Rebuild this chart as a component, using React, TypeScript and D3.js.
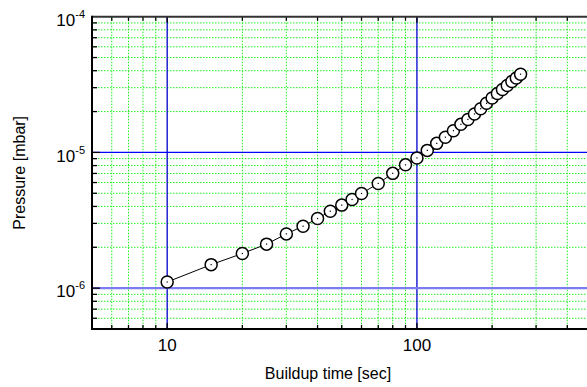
import React from "react";
import * as d3 from "d3";

// buildup time [sec]
const times = [10, 15, 20, 25, 30, 35, 40, 45, 50, 55, 60, 70, 80, 90, 100, 110, 120, 130, 140, 150, 160, 170, 180, 190, 200, 210, 220, 230, 240, 250, 260];
// pressure [mbar]
const pressures = [
  1.11e-6, 1.49e-6, 1.8e-6, 2.11e-6, 2.51e-6, 2.86e-6, 3.26e-6, 3.69e-6, 4.09e-6, 4.5e-6, 4.98e-6,
  5.91e-6, 7.01e-6, 8.1e-6, 9.1e-6, 1.035e-5, 1.166e-5, 1.295e-5, 1.446e-5, 1.61e-5, 1.75e-5,
  1.92e-5, 2.1e-5, 2.3e-5, 2.52e-5, 2.72e-5, 2.91e-5, 3.11e-5, 3.33e-5, 3.53e-5, 3.77e-5,
];
const xMajor = [10, 100];
const xTickLabels = ["10", "100"];
const yMajor = [1e-6, 1e-5, 1e-4];
const yTickExps = ["-6", "-5", "-4"];

const W = 587;
const H = 387;
const left = 92, top = 16.7, bottom = 329, right = 591.5;
const font = "Arial, 'Liberation Sans', sans-serif";

export default function App() {
  const x = d3.scaleLog().domain([5, 500]).range([left, right]);
  const y = d3.scaleLog().domain([5e-7, 1e-4]).range([bottom, top]);

  const isMajor = (v: number) => Math.abs(Math.log10(v) - Math.round(Math.log10(v))) < 1e-9;
  const xMinor = x.ticks().filter((v) => !isMajor(v) && v > 5 && v < 500);
  const yMinor = y.ticks().filter((v) => !isMajor(v) && v > 5e-7);
  const xAllTicks = x.ticks().filter((v) => v > 5 && v < 500);
  const yAllTicks = y.ticks().filter((v) => v > 5e-7 && v < 1e-4);

  const pts = times.map((t, i) => [x(t), y(pressures[i])] as [number, number]);
  const line = d3.line()(pts) || "";

  return (
    <svg width={W} height={H} style={{ position: "absolute", left: 0, top: 0, background: "#fff" }} fontFamily={font}>
      {/* green dotted minor grid */}
      {xMinor.map((v) => (
        <line key={"gx" + v} x1={x(v)} x2={x(v)} y1={top} y2={bottom} stroke="#22ee22" strokeWidth={1} strokeDasharray="1.5,1.5" />
      ))}
      {yMinor.map((v) => (
        <line key={"gy" + v} x1={left} x2={W} y1={y(v)} y2={y(v)} stroke="#22ee22" strokeWidth={1} strokeDasharray="1.5,1.5" />
      ))}
      {/* blue major grid */}
      {xMajor.map((v) => (
        <line key={"bx" + v} x1={x(v)} x2={x(v)} y1={top} y2={bottom} stroke="#0000cc" strokeWidth={1.3} />
      ))}
      <line x1={left} x2={W} y1={y(1e-5)} y2={y(1e-5)} stroke="#0000ff" strokeWidth={1.3} />
      <line x1={left} x2={W} y1={y(1e-6)} y2={y(1e-6)} stroke="#7b7bf2" strokeWidth={2.2} />

      {/* ticks */}
      {xAllTicks.map((v) => {
        const len = isMajor(v) ? 6 : 4;
        return (
          <g key={"tx" + v}>
            <line x1={x(v)} x2={x(v)} y1={bottom} y2={bottom - len} stroke="#000" strokeWidth={1.3} />
            <line x1={x(v)} x2={x(v)} y1={top} y2={top + len} stroke="#000" strokeWidth={1.3} />
          </g>
        );
      })}
      {yAllTicks.map((v) => (
        <line key={"ty" + v} x1={left} x2={left + (isMajor(v) ? 8 : 5)} y1={y(v)} y2={y(v)} stroke="#000" strokeWidth={1.3} />
      ))}

      {/* axes */}
      <line x1={left} x2={W} y1={bottom} y2={bottom} stroke="#000" strokeWidth={2} />
      <line x1={left} x2={W} y1={top} y2={top} stroke="#333" strokeWidth={2} />
      <line x1={left} x2={left} y1={top - 1} y2={bottom + 1} stroke="#000" strokeWidth={2} />

      {/* data */}
      <path d={line} fill="none" stroke="#000" strokeWidth={1} />
      {pts.map(([px, py], i) => (
        <g key={"p" + i}>
          <circle cx={px} cy={py} r={6} fill="#fff" stroke="#000" strokeWidth={1.5} />
          <rect x={px - 0.6} y={py - 0.6} width={1.2} height={1.2} fill="#000" />
        </g>
      ))}

      {/* tick labels */}
      {xMajor.map((v, i) => (
        <text key={"lx" + v} x={x(v)} y={351} textAnchor="middle" fontSize={17} fill="#000">
          {xTickLabels[i]}
        </text>
      ))}
      {yMajor.map((v, i) => (
        <text key={"ly" + v} x={85} y={y(v) + 9.3} textAnchor="end" fontSize={17} fill="#000">
          10
          <tspan dy={-8} fontSize={11}>
            {yTickExps[i]}
          </tspan>
        </text>
      ))}

      {/* axis titles */}
      <text x={328} y={379} textAnchor="middle" fontSize={16} fill="#000">
        Buildup time [sec]
      </text>
      <text transform={`translate(25,${(top + bottom) / 2}) rotate(-90)`} textAnchor="middle" fontSize={16} fill="#000">
        Pressure [mbar]
      </text>
    </svg>
  );
}
